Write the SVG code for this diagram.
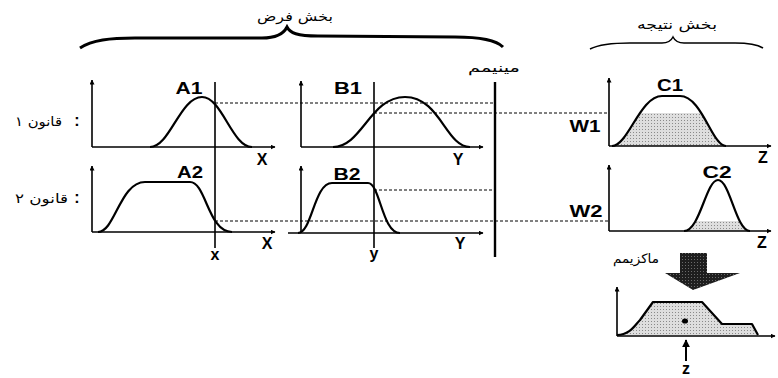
<svg xmlns="http://www.w3.org/2000/svg" width="778" height="378" viewBox="0 0 778 378">
<style>
.ax{stroke:#000;stroke-width:1.6;fill:none}
.axa{stroke:#000;stroke-width:1.6;fill:none;marker-end:url(#ah)}
.cv{stroke:#000;stroke-width:2.2;fill:none;stroke-linejoin:round}
.dash{stroke:#000;stroke-width:1;stroke-dasharray:3 2;fill:none}
.vl{stroke:#000;stroke-width:1.6;fill:none}
.lb{font-family:"Liberation Sans",Arial,sans-serif;font-weight:bold;font-size:16px;fill:#000}
.fa{font-family:"DejaVu Sans","Noto Sans",sans-serif;font-size:13px;fill:#000}
</style>
<defs>
<marker id="ah" viewBox="0 0 10 10" refX="9" refY="5" markerWidth="5" markerHeight="5" orient="auto" markerUnits="userSpaceOnUse">
<path d="M0,0 L10,5 L0,10 z" fill="#000"/>
</marker>
<marker id="ahb" viewBox="0 0 10 10" refX="9" refY="5" markerWidth="8" markerHeight="8" orient="auto" markerUnits="userSpaceOnUse">
<path d="M0,0 L10,5 L0,10 z" fill="#000"/>
</marker>
<pattern id="stip" width="3" height="3" patternUnits="userSpaceOnUse">
<rect width="3" height="3" fill="#dedede"/>
<rect width="1" height="1" fill="#8a8a8a"/>
</pattern>
<pattern id="dark" width="3" height="3" patternUnits="userSpaceOnUse">
<rect width="3" height="3" fill="#1e1e1e"/>
<rect x="1" y="1" width="1" height="1" fill="#6a6a6a"/>
</pattern>
<clipPath id="clipW1"><rect x="600" y="113" width="170" height="34"/></clipPath>
<clipPath id="clipW2"><rect x="600" y="221" width="170" height="11"/></clipPath>
</defs>

<g id="headers">
<path d="M80,48 C92,40 110,38 135,38 L262,38 C278,38 284,33 287,27 C290,33 297,36 318,36 L455,37 C478,37 496,40 503,47" fill="none" stroke="#000" stroke-width="3"/>
<text class="fa" x="295" y="21" text-anchor="middle" font-size="14" textLength="76" lengthAdjust="spacingAndGlyphs">بخش فرض</text>
<path d="M590,49 C600,44 615,43 630,43 L662,43 C668,43 671,41 673,37 C675,41 678,43 684,43 L735,43 C750,43 758,45 763,48" fill="none" stroke="#000" stroke-width="1.5"/>
<text class="fa" x="677" y="29" text-anchor="middle" font-size="14" textLength="80" lengthAdjust="spacingAndGlyphs">بخش نتیجه</text>
</g>

<g id="rule1-label">
<text class="fa" x="15" y="126" font-size="14" textLength="47" lengthAdjust="spacingAndGlyphs">قانون ۱</text>
<text class="lb" x="77" y="126" text-anchor="middle" font-size="14">:</text>
</g>
<g id="rule2-label">
<text class="fa" x="15" y="203" font-size="14" textLength="53" lengthAdjust="spacingAndGlyphs">قانون ۲</text>
<text class="lb" x="77" y="203" text-anchor="middle" font-size="14">:</text>
</g>

<g id="A1">
<path class="axa" d="M92,147 L92,80"/>
<path class="axa" d="M92,147 L275,147"/>
<path class="cv" d="M150,147 C170,147 180,97 202,97 C222,97 232,147 252,147"/>
<text class="lb" x="189" y="94" text-anchor="middle" textLength="27" lengthAdjust="spacingAndGlyphs">A1</text>
<text class="lb" x="262" y="165" text-anchor="middle">X</text>
</g>

<g id="A2">
<path class="axa" d="M92,232 L92,166"/>
<path class="axa" d="M92,232 L275,232"/>
<path class="cv" d="M98,232 C115,232 120,182 145,182 L190,182 C206,182 208,232 232,232"/>
<text class="lb" x="190" y="178" text-anchor="middle" textLength="26" lengthAdjust="spacingAndGlyphs">A2</text>
<text class="lb" x="267" y="249" text-anchor="middle">X</text>
</g>

<g id="B1">
<path class="axa" d="M301,147 L301,81"/>
<path class="axa" d="M301,147 L483,147"/>
<path class="cv" d="M333,147 C362,147 370,97 405,97 C440,97 446,147 470,147"/>
<text class="lb" x="348" y="94" text-anchor="middle" textLength="28" lengthAdjust="spacingAndGlyphs">B1</text>
<text class="lb" x="458" y="165" text-anchor="middle">Y</text>
</g>

<g id="B2">
<path class="axa" d="M301,233 L301,166"/>
<path class="axa" d="M288,233 L483,233"/>
<path class="cv" d="M298,233 C312,233 314,183 332,183 L368,183 C380,183 382,233 400,233"/>
<text class="lb" x="347" y="180" text-anchor="middle" textLength="27" lengthAdjust="spacingAndGlyphs">B2</text>
<text class="lb" x="460" y="249" text-anchor="middle">Y</text>
</g>

<g id="C1">
<path d="M612,146 C628,146 640,96 662,96 L680,96 C702,96 712,146 726,146 Z" fill="url(#stip)" clip-path="url(#clipW1)"/>
<path class="axa" d="M609,146 L609,78"/>
<path class="axa" d="M609,146 L771,146"/>
<path class="cv" d="M612,146 C628,146 640,96 662,96 L680,96 C702,96 712,146 726,146"/>
<text class="lb" x="670" y="91" text-anchor="middle" textLength="26" lengthAdjust="spacingAndGlyphs">C1</text>
<text class="lb" x="763" y="163" text-anchor="middle">Z</text>
<text class="lb" x="585" y="132" text-anchor="middle" textLength="31" lengthAdjust="spacingAndGlyphs">W1</text>
</g>

<g id="C2">
<path d="M684,231 C700,231 706,180 718,180 C730,180 736,231 750,231 Z" fill="url(#stip)" clip-path="url(#clipW2)"/>
<path class="axa" d="M609,231 L609,165"/>
<path class="axa" d="M609,231 L771,231"/>
<path class="cv" d="M684,231 C700,231 706,180 718,180 C730,180 736,231 750,231"/>
<text class="lb" x="717" y="178" text-anchor="middle" textLength="29" lengthAdjust="spacingAndGlyphs">C2</text>
<text class="lb" x="762" y="248" text-anchor="middle">Z</text>
<text class="lb" x="586" y="217" text-anchor="middle" textLength="33" lengthAdjust="spacingAndGlyphs">W2</text>
</g>

<g id="maximum-arrow">
<text class="fa" x="636" y="263" text-anchor="middle" font-size="13" textLength="46" lengthAdjust="spacingAndGlyphs">ماکزیمم</text>
<path d="M680,253 L707,253 L707,273 L740,273 L693,290 L665,273 L680,273 Z" fill="url(#dark)"/>
</g>

<g id="result">
<path d="M617,335 C630,335 635,325 640,320 L653,302 L702,302 L722,324 L752,324 L758,335 Z" fill="url(#stip)"/>
<path class="axa" d="M617,336 L617,287"/>
<path class="axa" d="M617,336 L775,336"/>
<path class="cv" d="M617,335 C630,335 635,325 640,320 L653,302 L702,302 L722,324 L752,324 L758,335"/>
<ellipse cx="685" cy="321" rx="3" ry="2.6" fill="#000"/>
<text class="lb" x="686" y="374" text-anchor="middle" font-size="12">z</text>
</g>

<g id="connectors">
<path class="vl" d="M215,82 L215,248"/>
<path class="vl" d="M374,82 L374,248"/>
<path d="M495,82 L495,257" stroke="#000" stroke-width="2.4" fill="none"/>
<path class="dash" d="M215,103 L495,103"/>
<path class="dash" d="M374,113 L609,113"/>
<path class="dash" d="M374,190 L495,190"/>
<path class="dash" d="M215,221 L609,221"/>
<path d="M686,361 L686,340" stroke="#000" stroke-width="2" fill="none" marker-end="url(#ahb)"/>
<text class="fa" x="494" y="72" text-anchor="middle" font-size="13" textLength="52" lengthAdjust="spacingAndGlyphs">مینیمم</text>
<text class="lb" x="215" y="260" text-anchor="middle" font-size="14">x</text>
<text class="lb" x="374" y="259" text-anchor="middle" font-size="14">y</text>
</g>
</svg>
